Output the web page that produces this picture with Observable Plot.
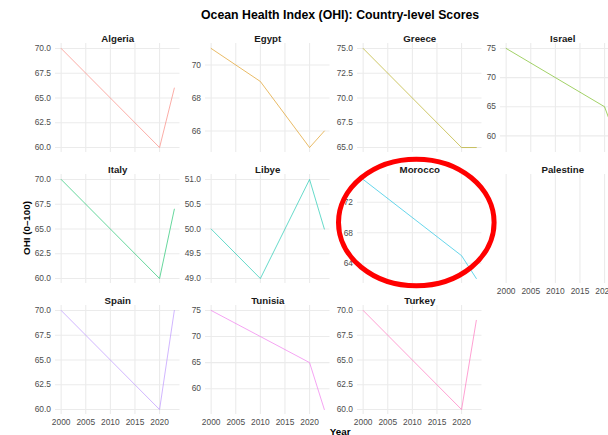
<!DOCTYPE html>
<html><head><meta charset="utf-8">
<script src="https://cdn.jsdelivr.net/npm/d3@7"></script>
<script src="https://cdn.jsdelivr.net/npm/@observablehq/plot@0.6"></script>
<style>
html,body{margin:0;padding:0;background:#fff;overflow:hidden;}
#wrap{position:relative;width:630px;height:435px;overflow:hidden;font-family:"Liberation Sans",Arial,Helvetica,sans-serif;}
.lbl{position:absolute;white-space:nowrap;font-weight:bold;color:#000;line-height:1;}
svg.panel{position:absolute;}
</style></head><body><div id="wrap"></div>
<script>
// ---- data ----
const countries = ["Algeria","Egypt","Greece","Israel","Italy","Libye","Morocco","Palestine","Spain","Tunisia","Turkey"];
const years = [2000, 2010, 2020, 2023];
const scores = [
  [70, 65, 60, 66],   // Algeria
  [71, 69, 65, 66],   // Egypt
  [75, 70, 65, 65],   // Greece
  [75, 70, 65, 58],   // Israel
  [70, 65, 60, 67],   // Italy
  [50, 49, 51, 50],   // Libye
  [75, 70, 65, 62],   // Morocco
  [null, null, null, null], // Palestine
  [70, 65, 60, 70],   // Spain
  [75, 70, 65, 56],   // Tunisia
  [70, 65, 60, 69]    // Turkey
];
const colors = ["#F8766D","#DB8E00","#AEA200","#64B200","#00BD5C","#00C1A7","#00BADE","#00A6FF","#B385FF","#EF67EB","#FF63B6"];
const xTicks = [2000, 2005, 2010, 2015, 2020];
const yTicks = [
  [60, 62.5, 65, 67.5, 70],
  [66, 68, 70],
  [65, 67.5, 70, 72.5, 75],
  [60, 65, 70, 75],
  [60, 62.5, 65, 67.5, 70],
  [49, 49.5, 50, 50.5, 51],
  [64, 68, 72],
  [],
  [60, 62.5, 65, 67.5, 70],
  [60, 65, 70, 75],
  [60, 62.5, 65, 67.5, 70]
];
const titleText = "Ocean Health Index (OHI): Country-level Scores";
const xTitle = "Year";
const yTitle = "OHI (0–100)";

// ---- layout ----
const colLeft = [55.4, 205.3, 356.6, 500.3];
const rowTop = [42.7, 174.1, 305.1];
const pw = 124.5, ph = 109;
const ML = 40, MT = 22, MB = 20;
const FONT = '"Liberation Sans", Arial, Helvetica, sans-serif';
const wrap = document.getElementById("wrap");

const xExt = d3.extent(years), xr = xExt[1] - xExt[0];
const xDomain = [xExt[0] - 0.05 * xr, xExt[1] + 0.05 * xr];

countries.forEach((name, i) => {
  const row = Math.floor(i / 4), col = i % 4;
  const data = years.map((yr, j) => ({year: yr, value: scores[i][j]})).filter(d => d.value != null);
  const vals = data.map(d => d.value);
  const hasData = vals.length > 0;
  let yDomain = [0, 1];
  if (hasData) {
    const mn = d3.min(vals), mx = d3.max(vals), r = mx - mn;
    yDomain = [mn - 0.05 * r, mx + 0.05 * r];
  }
  const ticks = yTicks[i];
  const fmt = ticks.some(t => t % 1 !== 0) ? d3.format(".1f") : d3.format("d");
  const showX = i >= 7;
  const marks = [Plot.gridX(xTicks, {stroke: "#ebebeb", strokeOpacity: 1, strokeWidth: 1.1})];
  if (hasData) {
    marks.push(
      Plot.gridY(ticks, {stroke: "#ebebeb", strokeOpacity: 1, strokeWidth: 1.1}),
      Plot.axisY(ticks, {tickSize: 0, tickPadding: 4.5, tickFormat: fmt, fontSize: 8.4, fill: "#4d4d4d", label: null}),
      Plot.lineY(data, {x: "year", y: "value", stroke: colors[i], strokeWidth: 1, strokeOpacity: 0.6})
    );
  }
  if (showX) {
    marks.push(Plot.axisX(xTicks, {tickSize: 0, tickPadding: 4.5, tickFormat: "d", fontSize: 8.4, fill: "#4d4d4d", label: null}));
  }
  marks.push(Plot.text([name], {text: d => d, frameAnchor: "top", dy: -8.4, fontWeight: "bold", fontSize: 9.7, fill: "#1a1a1a"}));

  const svg = Plot.plot({
    width: ML + pw,
    height: MT + ph + MB,
    marginLeft: ML, marginRight: 0, marginTop: MT, marginBottom: MB,
    x: {domain: xDomain, axis: showX ? undefined : null},
    y: {domain: yDomain, axis: hasData ? undefined : null},
    style: {background: "transparent", fontFamily: FONT, overflow: "visible"},
    marks
  });
  svg.classList.add("panel");
  svg.style.left = (colLeft[col] - ML) + "px";
  svg.style.top = (rowTop[row] - MT) + "px";
  wrap.appendChild(svg);
});

// ---- titles ----
function label(text, size, cx, cy, rotate) {
  const d = document.createElement("div");
  d.className = "lbl";
  d.textContent = text;
  d.style.fontSize = size + "px";
  d.style.left = cx + "px";
  d.style.top = cy + "px";
  d.style.transform = "translate(-50%,-50%)" + (rotate ? " rotate(-90deg)" : "");
  wrap.appendChild(d);
}
const panelCenterX = (colLeft[0] + colLeft[3] + pw) / 2;
const panelCenterY = (rowTop[0] + rowTop[2] + ph) / 2;
label(titleText, 12.3, panelCenterX, 15, false);
label(xTitle, 9.8, panelCenterX, 431.5, false);
label(yTitle, 9.8, 27, panelCenterY, true);

// ---- annotation ellipse ----
const ns = "http://www.w3.org/2000/svg";
const ov = document.createElementNS(ns, "svg");
ov.setAttribute("width", 630); ov.setAttribute("height", 435);
ov.style.position = "absolute"; ov.style.left = "0px"; ov.style.top = "0px"; ov.style.pointerEvents = "none";
const el = document.createElementNS(ns, "ellipse");
el.setAttribute("cx", 416.3); el.setAttribute("cy", 222.5);
el.setAttribute("rx", 77.8); el.setAttribute("ry", 63.3);
el.setAttribute("fill", "none"); el.setAttribute("stroke", "#ff0000"); el.setAttribute("stroke-width", 5);
ov.appendChild(el);
wrap.appendChild(ov);
</script></body></html>
